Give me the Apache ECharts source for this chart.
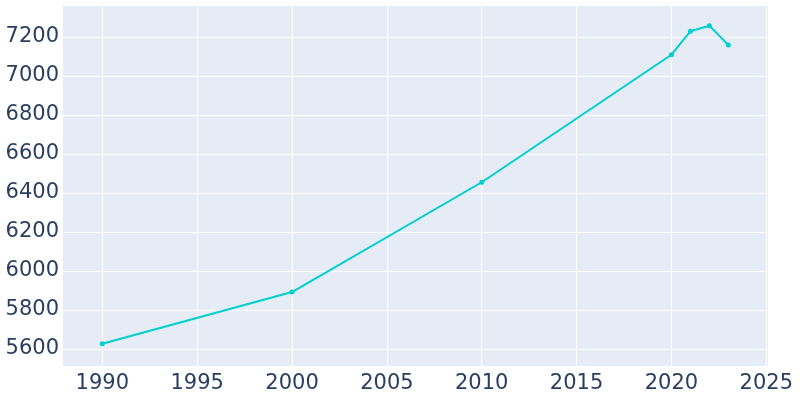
<!DOCTYPE html>
<html><head><meta charset="utf-8">
<script src="https://cdn.jsdelivr.net/npm/echarts@6/dist/echarts.min.js"></script>
<style>html,body{margin:0;padding:0;background:#fff}#c{width:800px;height:400px}</style>
</head><body><div id="c"></div>
<script>
const years = [1990, 2000, 2010, 2020, 2021, 2022, 2023];
const population = [5627, 5892, 6455, 7109, 7229, 7258, 7159];

const chart = echarts.init(document.getElementById('c'), null, {renderer: 'canvas'});
const font = 'DejaVu Sans';
chart.setOption({
  animation: false,
  backgroundColor: '#ffffff',
  grid: {left: 62, right: 32, top: 5, bottom: 33.3, show: true, backgroundColor: '#e5ecf6', borderWidth: 0,
         containLabel: false, outerBoundsMode: 'none'},
  xAxis: {
    type: 'value', min: 1987.875, max: 2025.09, splitNumber: 7, minInterval: 5, maxInterval: 5,
    axisLine: {show: false}, axisTick: {show: false},
    splitLine: {show: true, lineStyle: {color: '#ffffff', width: 1}},
    axisLabel: {showMinLabel: false, showMaxLabel: false, color: '#2a3f5f', fontFamily: font, fontSize: 21, margin: 6,
                formatter: v => String(Math.round(v))}
  },
  yAxis: {
    type: 'value', min: 5509, max: 7364, splitNumber: 9, minInterval: 200, maxInterval: 200,
    axisLine: {show: false}, axisTick: {show: false},
    splitLine: {show: true, lineStyle: {color: '#ffffff', width: 1}},
    axisLabel: {showMinLabel: false, showMaxLabel: false, color: '#2a3f5f', fontFamily: font, fontSize: 21, margin: 3,
                formatter: v => String(Math.round(v))}
  },
  series: [{
    type: 'line',
    data: years.map((y, i) => [y, population[i]]),
    lineStyle: {color: '#00ced1', width: 2},
    itemStyle: {color: '#00ced1'},
    symbol: 'circle', symbolSize: 5,
    clip: false
  }]
});
</script></body></html>
